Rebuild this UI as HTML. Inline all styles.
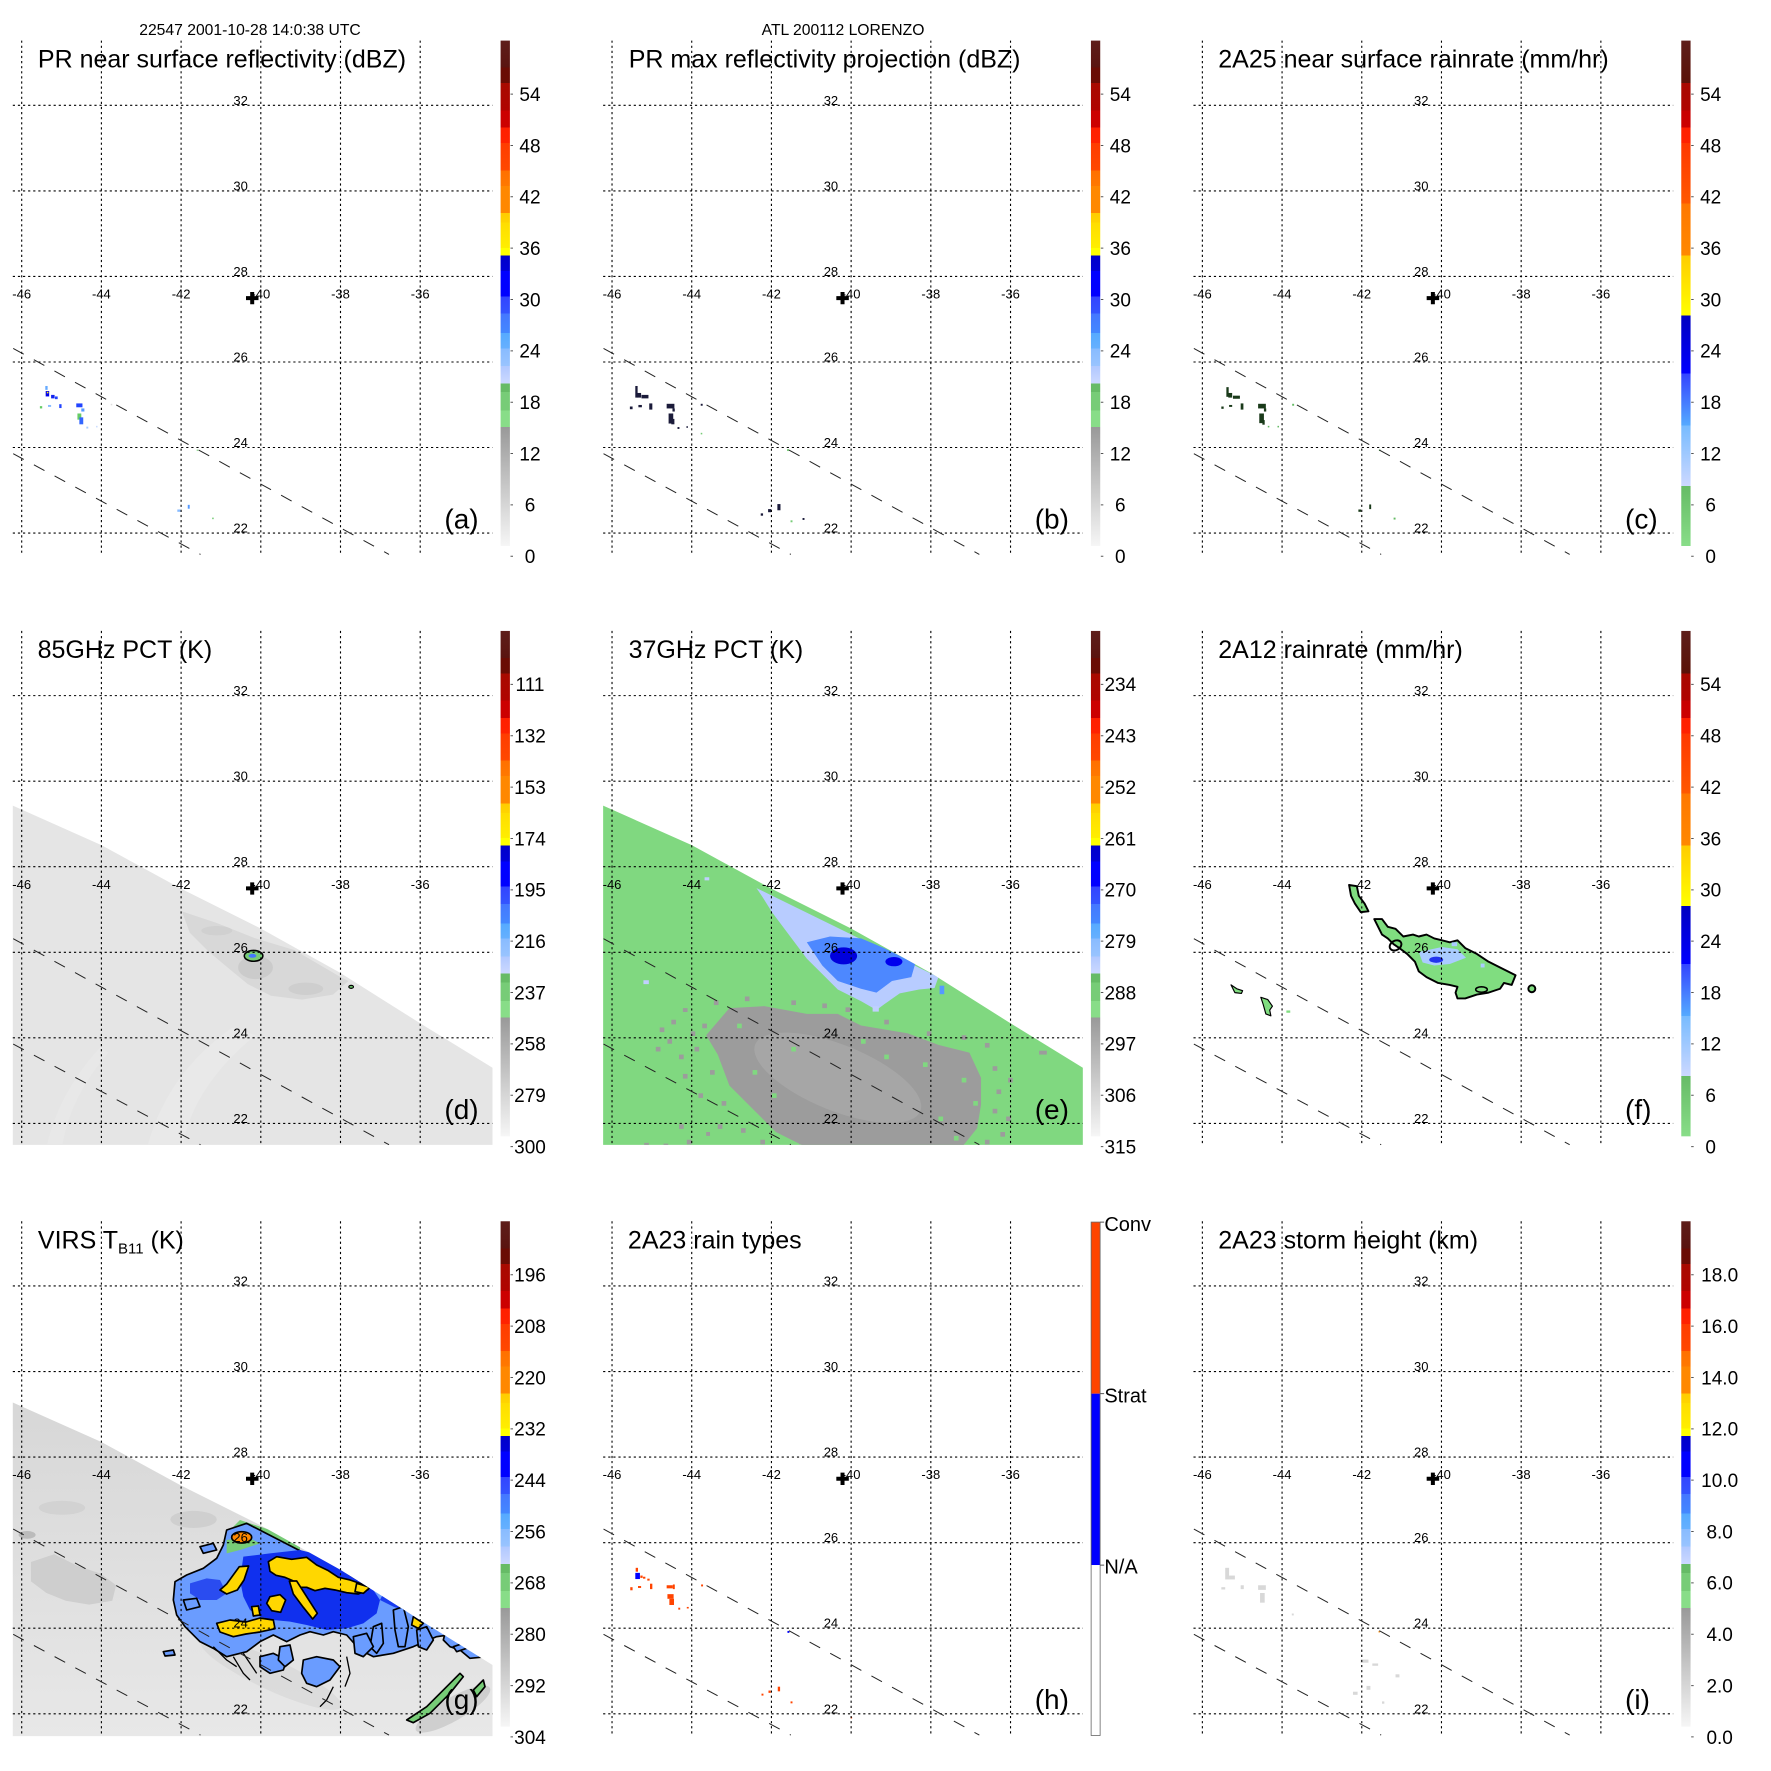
<!DOCTYPE html>
<html><head><meta charset="utf-8">
<style>
html,body{margin:0;padding:0;background:#fff;}
svg{display:block;}
text{font-family:"Liberation Sans",Arial,sans-serif;fill:#000;}
.ll{font-size:13px;text-anchor:middle;}
.ti{font-size:25px;}
.pl{font-size:28px;}
.cb{font-size:19px;text-anchor:middle;}
.hd{font-size:15.7px;text-anchor:middle;}
</style></head>
<body>
<svg width="1771" height="1771" viewBox="0 0 1771 1771" xmlns="http://www.w3.org/2000/svg">
<defs>
<linearGradient id="gA" x1="0" y1="0" x2="0" y2="1">
<stop offset="0" stop-color="#5e1e1a"/><stop offset="0.0536" stop-color="#5a1410"/>
<stop offset="0.0536" stop-color="#6a0c04"/><stop offset="0.0843" stop-color="#6a0c04"/>
<stop offset="0.0843" stop-color="#a80a00"/><stop offset="0.138" stop-color="#b00400"/>
<stop offset="0.138" stop-color="#cc0000"/><stop offset="0.1724" stop-color="#cc0000"/>
<stop offset="0.1724" stop-color="#ff2000"/><stop offset="0.203" stop-color="#ff2200"/>
<stop offset="0.203" stop-color="#ff3c00"/><stop offset="0.2567" stop-color="#ff4800"/>
<stop offset="0.2567" stop-color="#ff7000"/><stop offset="0.2874" stop-color="#ff7800"/>
<stop offset="0.2874" stop-color="#ff8800"/><stop offset="0.341" stop-color="#ff8800"/>
<stop offset="0.341" stop-color="#ffcc00"/><stop offset="0.36" stop-color="#ffd400"/>
<stop offset="0.36" stop-color="#ffdd00"/><stop offset="0.41" stop-color="#ffee00"/>
<stop offset="0.41" stop-color="#ffff00"/><stop offset="0.425" stop-color="#ffff00"/>
<stop offset="0.425" stop-color="#0000c8"/><stop offset="0.456" stop-color="#0000d8"/>
<stop offset="0.456" stop-color="#0000ff"/><stop offset="0.506" stop-color="#0000ff"/>
<stop offset="0.506" stop-color="#3344ff"/><stop offset="0.54" stop-color="#3355ff"/>
<stop offset="0.54" stop-color="#4477ff"/><stop offset="0.5785" stop-color="#4488ff"/>
<stop offset="0.5785" stop-color="#55aaff"/><stop offset="0.609" stop-color="#66b0ff"/>
<stop offset="0.609" stop-color="#88bbff"/><stop offset="0.6437" stop-color="#99c4ff"/>
<stop offset="0.6437" stop-color="#b0c8ff"/><stop offset="0.678" stop-color="#ccd8ff"/>
<stop offset="0.678" stop-color="#66bb66"/><stop offset="0.6955" stop-color="#66bb66"/>
<stop offset="0.6955" stop-color="#77cc77"/><stop offset="0.7318" stop-color="#77cc77"/>
<stop offset="0.7318" stop-color="#88dd88"/><stop offset="0.7648" stop-color="#88dd88"/>
<stop offset="0.7648" stop-color="#999999"/><stop offset="1" stop-color="#f6f6f6"/>
</linearGradient>
<linearGradient id="gC" x1="0" y1="0" x2="0" y2="1">
<stop offset="0" stop-color="#5e1e1a"/><stop offset="0.0843" stop-color="#5a1208"/>
<stop offset="0.0843" stop-color="#a80800"/><stop offset="0.138" stop-color="#b00400"/>
<stop offset="0.138" stop-color="#c80000"/><stop offset="0.172" stop-color="#cc0000"/>
<stop offset="0.172" stop-color="#ff2000"/><stop offset="0.203" stop-color="#ff2200"/>
<stop offset="0.203" stop-color="#ff3800"/><stop offset="0.322" stop-color="#ff5800"/>
<stop offset="0.322" stop-color="#ff7800"/><stop offset="0.425" stop-color="#ff8800"/>
<stop offset="0.425" stop-color="#ffcc00"/><stop offset="0.544" stop-color="#ffff00"/>
<stop offset="0.544" stop-color="#0000c0"/><stop offset="0.659" stop-color="#0000ff"/>
<stop offset="0.659" stop-color="#3344ff"/><stop offset="0.762" stop-color="#55aaff"/>
<stop offset="0.762" stop-color="#77bbff"/><stop offset="0.881" stop-color="#ccd8ff"/>
<stop offset="0.881" stop-color="#66bb66"/><stop offset="1" stop-color="#88dd88"/>
</linearGradient>
<linearGradient id="gG" x1="0" y1="0" x2="0" y2="1">
<stop offset="0" stop-color="#d7d7d7"/><stop offset="0.5" stop-color="#dfdfdf"/><stop offset="1" stop-color="#e8e8e8"/>
</linearGradient>
<clipPath id="cpDE"><polygon points="12.8,215.3 101.4,254.8 180.8,298.2 260.5,338.1 340.3,382.6 420.1,432.9 492.5,477.4 492.5,554.5 12.8,554.5"/></clipPath>
<clipPath id="cpG"><polygon points="12.8,221.8 101.4,261.3 180.8,304.7 260.5,344.6 340.3,389.1 420.1,439.4 492.5,484.3 492.5,555.5 12.8,555.5"/></clipPath>
<g id="grid">
<path d="M12.8 105.3H492.5M12.8 190.9H492.5M12.8 276.4H492.5M12.8 362H492.5M12.8 447.5H492.5M12.8 533.1H492.5M21.7 40.6V554.5M101.4 40.6V554.5M181.1 40.6V554.5M260.8 40.6V554.5M340.5 40.6V554.5M420.2 40.6V554.5" stroke="#000" stroke-width="1.1" stroke-dasharray="2.2 2.9" fill="none"/>
<path d="M13.2 348.4L389 554.4M13.2 453.7L200.5 554.4" stroke="#222" stroke-width="1" stroke-dasharray="12 11.5" fill="none"/>
</g>
<path id="cross" d="M246 296.1h12.5v4h-12.5zM250.2 292h4v12.3h-4z" fill="#000"/>
<g id="cbA"><rect x="500.6" y="40.6" width="9.3" height="505.4" fill="url(#gA)"/>
<path d="M510.5 94.1h2.5M510.5 145.45h2.5M510.5 196.8h2.5M510.5 248.15h2.5M510.5 299.5h2.5M510.5 350.85h2.5M510.5 402.2h2.5M510.5 453.55h2.5M510.5 504.9h2.5M510.5 556.25h2.5" stroke="#555" stroke-width="1"/></g>
<g id="cbC"><rect x="500.6" y="40.6" width="9.3" height="505.4" fill="url(#gC)"/>
<path d="M510.5 94.1h2.5M510.5 145.45h2.5M510.5 196.8h2.5M510.5 248.15h2.5M510.5 299.5h2.5M510.5 350.85h2.5M510.5 402.2h2.5M510.5 453.55h2.5M510.5 504.9h2.5M510.5 556.25h2.5" stroke="#555" stroke-width="1"/></g>
</defs>

<rect width="1771" height="1771" fill="#fff"/>

<!-- ===== (a) ===== -->
<g transform="translate(0,0)">
<g transform="scale(0.38715)">
<rect x="117" y="997" width="6" height="10" fill="#66aaff"/><rect x="118" y="1010" width="9" height="14" fill="#0000ee"/><rect x="121" y="1012" width="4" height="4" fill="#ffee00"/><rect x="132" y="1020" width="9" height="9" fill="#1122ee"/><rect x="142" y="1024" width="7" height="7" fill="#2244ff"/><rect x="153" y="1044" width="6" height="10" fill="#2244ff"/><rect x="103" y="1049" width="6" height="6" fill="#66cc66"/><rect x="124" y="1046" width="8" height="5" fill="#88bbff"/><rect x="197" y="1042" width="16" height="10" fill="#2244ff"/><rect x="210" y="1055" width="8" height="8" fill="#5599ff"/><rect x="200" y="1068" width="10" height="16" fill="#66cc66"/><rect x="205" y="1078" width="10" height="18" fill="#3366ff"/><rect x="223" y="1102" width="5" height="5" fill="#aaccff"/><rect x="248" y="1100" width="4" height="4" fill="#ccddff"/><rect x="286" y="1043" width="4" height="4" fill="#dddddd"/><rect x="458" y="1316" width="8" height="6" fill="#88bbff"/><rect x="485" y="1304" width="5" height="10" fill="#5599ff"/><rect x="548" y="1337" width="4" height="4" fill="#77cc77"/><rect x="508" y="1161" width="4" height="4" fill="#99dd99"/>
</g>
<use href="#grid"/>
<text class="ll" x="21.7" y="298.5">-46</text><text class="ll" x="101.4" y="298.5">-44</text><text class="ll" x="181.1" y="298.5">-42</text><text class="ll" x="260.8" y="298.5">-40</text><text class="ll" x="340.5" y="298.5">-38</text><text class="ll" x="420.2" y="298.5">-36</text>
<text class="ll" x="240.6" y="104.8">32</text><text class="ll" x="240.6" y="190.4">30</text><text class="ll" x="240.6" y="275.9">28</text><text class="ll" x="240.6" y="361.5">26</text><text class="ll" x="240.6" y="447">24</text><text class="ll" x="240.6" y="532.6">22</text>
<use href="#cross"/>
<text class="hd" x="250" y="34.8">22547 2001-10-28 14:0:38 UTC</text>
<text class="ti" x="37.9" y="67.7">PR near surface reflectivity (dBZ)</text>
<text class="pl" x="444.4" y="528.5">(a)</text>
<use href="#cbA"/>
<text class="cb" x="530" y="100.9">54</text><text class="cb" x="530" y="152.3">48</text><text class="cb" x="530" y="203.6">42</text><text class="cb" x="530" y="255">36</text><text class="cb" x="530" y="306.3">30</text><text class="cb" x="530" y="357.7">24</text><text class="cb" x="530" y="409">18</text><text class="cb" x="530" y="460.4">12</text><text class="cb" x="530" y="511.7">6</text><text class="cb" x="530" y="563.1">0</text>
</g>

<!-- ===== (b) ===== -->
<g transform="translate(590.33,0)">
<g transform="translate(-0.33,0) scale(0.38715)" fill="#1b1b3a">
<rect x="117" y="997" width="6" height="30"/><rect x="122" y="1015" width="10" height="12"/><rect x="133" y="1020" width="18" height="9"/><rect x="153" y="1042" width="8" height="16"/><rect x="103" y="1050" width="7" height="7"/><rect x="125" y="1046" width="9" height="6"/><rect x="198" y="1043" width="20" height="12"/><rect x="213" y="1055" width="6" height="8"/><rect x="203" y="1068" width="12" height="26"/><rect x="210" y="1082" width="8" height="14"/><rect x="226" y="1103" width="5" height="5"/><rect x="249" y="1101" width="4" height="4"/><rect x="286" y="1043" width="5" height="5"/><rect x="286" y="1118" width="4" height="4" fill="#77cc77"/><rect x="509" y="1160" width="5" height="5" fill="#77cc77"/><rect x="441" y="1326" width="6" height="6"/><rect x="460" y="1315" width="8" height="8"/><rect x="484" y="1302" width="8" height="16"/><rect x="518" y="1344" width="5" height="5" fill="#77cc77"/><rect x="549" y="1338" width="5" height="5"/>
</g>
<use href="#grid"/>
<text class="ll" x="21.7" y="298.5">-46</text><text class="ll" x="101.4" y="298.5">-44</text><text class="ll" x="181.1" y="298.5">-42</text><text class="ll" x="260.8" y="298.5">-40</text><text class="ll" x="340.5" y="298.5">-38</text><text class="ll" x="420.2" y="298.5">-36</text>
<text class="ll" x="240.6" y="104.8">32</text><text class="ll" x="240.6" y="190.4">30</text><text class="ll" x="240.6" y="275.9">28</text><text class="ll" x="240.6" y="361.5">26</text><text class="ll" x="240.6" y="447">24</text><text class="ll" x="240.6" y="532.6">22</text>
<use href="#cross"/>
<text class="hd" x="252.7" y="34.8">ATL 200112 LORENZO</text>
<text class="ti" x="38.4" y="67.7">PR max reflectivity projection (dBZ)</text>
<text class="pl" x="444.4" y="528.5">(b)</text>
<use href="#cbA"/>
<text class="cb" x="530" y="100.9">54</text><text class="cb" x="530" y="152.3">48</text><text class="cb" x="530" y="203.6">42</text><text class="cb" x="530" y="255">36</text><text class="cb" x="530" y="306.3">30</text><text class="cb" x="530" y="357.7">24</text><text class="cb" x="530" y="409">18</text><text class="cb" x="530" y="460.4">12</text><text class="cb" x="530" y="511.7">6</text><text class="cb" x="530" y="563.1">0</text>
</g>

<!-- ===== (c) ===== -->
<g transform="translate(1180.67,0)">
<g transform="translate(-9.67,0) scale(0.38715)" fill="#1a3a1a">
<rect x="143" y="1000" width="6" height="25"/><rect x="148" y="1015" width="10" height="12"/><rect x="160" y="1022" width="18" height="8"/><rect x="180" y="1042" width="7" height="16"/><rect x="130" y="1050" width="6" height="6"/><rect x="150" y="1046" width="8" height="5"/><rect x="225" y="1043" width="20" height="12"/><rect x="240" y="1055" width="6" height="8"/><rect x="228" y="1068" width="12" height="25"/><rect x="236" y="1085" width="6" height="12"/><rect x="250" y="1100" width="4" height="4" fill="#66bb66"/><rect x="275" y="1100" width="4" height="4" fill="#66bb66"/><rect x="313" y="1043" width="5" height="5" fill="#66bb66"/><rect x="537" y="1161" width="4" height="4" fill="#66bb66"/><rect x="484" y="1316" width="7" height="6"/><rect x="512" y="1303" width="5" height="12"/><rect x="575" y="1337" width="5" height="5" fill="#66bb66"/>
</g>
<use href="#grid"/>
<text class="ll" x="21.7" y="298.5">-46</text><text class="ll" x="101.4" y="298.5">-44</text><text class="ll" x="181.1" y="298.5">-42</text><text class="ll" x="260.8" y="298.5">-40</text><text class="ll" x="340.5" y="298.5">-38</text><text class="ll" x="420.2" y="298.5">-36</text>
<text class="ll" x="240.6" y="104.8">32</text><text class="ll" x="240.6" y="190.4">30</text><text class="ll" x="240.6" y="275.9">28</text><text class="ll" x="240.6" y="361.5">26</text><text class="ll" x="240.6" y="447">24</text><text class="ll" x="240.6" y="532.6">22</text>
<use href="#cross"/>
<text class="ti" x="37.6" y="67.7">2A25 near surface rainrate (mm/hr)</text>
<text class="pl" x="444.4" y="528.5">(c)</text>
<use href="#cbC"/>
<text class="cb" x="530" y="100.9">54</text><text class="cb" x="530" y="152.3">48</text><text class="cb" x="530" y="203.6">42</text><text class="cb" x="530" y="255">36</text><text class="cb" x="530" y="306.3">30</text><text class="cb" x="530" y="357.7">24</text><text class="cb" x="530" y="409">18</text><text class="cb" x="530" y="460.4">12</text><text class="cb" x="530" y="511.7">6</text><text class="cb" x="530" y="563.1">0</text>
</g>

<!-- ===== (d) ===== -->
<g transform="translate(0,590.33)">
<g clip-path="url(#cpDE)">
<rect x="12" y="200" width="482" height="360" fill="#e5e5e5"/>
<g transform="translate(0,-0.33) scale(0.38715)">
<path d="M380,1440 Q430,1250 600,1130 L660,1150 Q500,1280 470,1440 Z" fill="#e9e9e9"/>
<path d="M120,1440 Q150,1300 260,1180 L280,1195 Q180,1310 160,1440 Z" fill="#e8e8e8"/>
<path d="M470,830 L560,860 L660,900 L760,930 L880,1000 L900,1010 L860,1045 L780,1058 L700,1048 L640,1018 L600,985 L540,935 L490,885 Z" fill="#d8d8d8"/>
<ellipse cx="660" cy="975" rx="45" ry="30" fill="#cbcbcb"/>
<ellipse cx="790" cy="1030" rx="45" ry="16" fill="#cecece"/>
<ellipse cx="560" cy="880" rx="40" ry="12" fill="#d0d0d0"/>
<ellipse cx="655" cy="945" rx="24" ry="14" fill="#77cc77" stroke="#000" stroke-width="4"/>
<ellipse cx="652" cy="945" rx="10" ry="5" fill="#4477ff"/>
<ellipse cx="907" cy="1025" rx="6" ry="4" fill="#66bb66" stroke="#000" stroke-width="3"/>
</g>
</g>
<use href="#grid"/>
<text class="ll" x="21.7" y="298.5">-46</text><text class="ll" x="101.4" y="298.5">-44</text><text class="ll" x="181.1" y="298.5">-42</text><text class="ll" x="260.8" y="298.5">-40</text><text class="ll" x="340.5" y="298.5">-38</text><text class="ll" x="420.2" y="298.5">-36</text>
<text class="ll" x="240.6" y="104.8">32</text><text class="ll" x="240.6" y="190.4">30</text><text class="ll" x="240.6" y="275.9">28</text><text class="ll" x="240.6" y="361.5">26</text><text class="ll" x="240.6" y="447">24</text><text class="ll" x="240.6" y="532.6">22</text>
<use href="#cross"/>
<text class="ti" x="37.6" y="67.7"> 85GHz PCT (K)</text>
<text class="pl" x="444.4" y="528.5">(d)</text>
<use href="#cbA"/>
<text class="cb" x="530" y="100.9">111</text><text class="cb" x="530" y="152.3">132</text><text class="cb" x="530" y="203.6">153</text><text class="cb" x="530" y="255">174</text><text class="cb" x="530" y="306.3">195</text><text class="cb" x="530" y="357.7">216</text><text class="cb" x="530" y="409">237</text><text class="cb" x="530" y="460.4">258</text><text class="cb" x="530" y="511.7">279</text><text class="cb" x="530" y="563.1">300</text>
</g>

<!-- ===== (e) ===== -->
<g transform="translate(590.33,590.33)">
<g clip-path="url(#cpDE)">
<rect x="12" y="200" width="482" height="360" fill="#80d880"/>
<g transform="translate(-0.33,-0.33) scale(0.38715)">
<path d="M360,1080 L450,1075 L560,1095 L640,1095 L700,1125 L820,1145 L900,1175 L980,1195 L1010,1260 L1010,1330 L1000,1390 L960,1440 L560,1440 L480,1400 L420,1340 L360,1280 L330,1200 L300,1150 Z" fill="#9c9c9c"/>
<ellipse cx="640" cy="1260" rx="230" ry="85" transform="rotate(22 640 1260)" fill="#a6a6a6"/>
<g fill="#9c9c9c">
<rect x="180" y="1130" width="12" height="12"/><rect x="200" y="1160" width="12" height="12"/><rect x="240" y="1080" width="12" height="10"/><rect x="260" y="1140" width="12" height="12"/><rect x="290" y="1120" width="12" height="12"/><rect x="230" y="1200" width="12" height="12"/><rect x="320" y="1060" width="12" height="12"/><rect x="140" y="1428" width="12" height="8"/><rect x="330" y="1380" width="12" height="12"/><rect x="300" y="1400" width="10" height="10"/><rect x="1040" y="1230" width="12" height="12"/><rect x="1050" y="1290" width="12" height="12"/><rect x="1040" y="1340" width="12" height="12"/><rect x="1060" y="1400" width="12" height="12"/><rect x="1160" y="1190" width="20" height="10"/><rect x="600" y="1068" width="12" height="12"/><rect x="660" y="1078" width="12" height="12"/><rect x="870" y="1140" width="12" height="12"/><rect x="540" y="1420" width="12" height="12"/><rect x="240" y="1250" width="12" height="12"/><rect x="280" y="1300" width="12" height="12"/><rect x="230" y="1380" width="12" height="12"/><rect x="1020" y="1170" width="12" height="12"/>
<rect x="170" y="1180" width="12" height="12"/><rect x="210" y="1110" width="12" height="12"/><rect x="270" y="1180" width="12" height="12"/><rect x="310" y="1240" width="12" height="12"/><rect x="340" y="1320" width="12" height="12"/><rect x="390" y="1390" width="12" height="12"/><rect x="440" y="1420" width="12" height="12"/><rect x="1020" y="1420" width="12" height="12"/><rect x="1075" y="1360" width="12" height="12"/><rect x="1080" y="1260" width="12" height="12"/><rect x="960" y="1150" width="12" height="12"/><rect x="760" y="1110" width="12" height="12"/><rect x="520" y="1060" width="12" height="12"/><rect x="400" y="1050" width="12" height="12"/><rect x="190" y="1430" width="12" height="8"/><rect x="250" y="1420" width="12" height="12"/>
</g>
<g fill="#80d880"><rect x="520" y="1180" width="12" height="12"/><rect x="470" y="1300" width="12" height="12"/><rect x="760" y="1200" width="12" height="12"/><rect x="900" y="1360" width="12" height="12"/><rect x="420" y="1240" width="12" height="12"/><rect x="960" y="1260" width="12" height="12"/><rect x="380" y="1120" width="12" height="12"/><rect x="700" y="1160" width="12" height="12"/><rect x="860" y="1220" width="12" height="12"/><rect x="940" y="1410" width="12" height="12"/><rect x="990" y="1320" width="12" height="12"/></g>
<path d="M430,770 L900,1000 L890,1028 L850,1032 L800,1042 L760,1070 L740,1085 L700,1062 L640,1032 L600,992 L560,952 L530,912 L500,872 L470,832 L445,792 Z" fill="#b8ccff"/>
<path d="M560,910 L620,895 L700,900 L760,925 L840,965 L830,1000 L780,1010 L740,1040 L700,1030 L640,1010 L600,970 Z" fill="#4d88ff"/>
<ellipse cx="655" cy="945" rx="35" ry="22" fill="#0000dd"/>
<ellipse cx="785" cy="960" rx="22" ry="12" fill="#0000ee"/>
<rect x="903" y="1022" width="12" height="22" fill="#5599ff"/>
<rect x="138" y="1008" width="14" height="10" fill="#c0d0ff"/>
<rect x="296" y="742" width="12" height="8" fill="#c0d0ff"/>
<rect x="730" y="1075" width="16" height="14" fill="#c0d0ff"/>
</g>
</g>
<use href="#grid"/>
<text class="ll" x="21.7" y="298.5">-46</text><text class="ll" x="101.4" y="298.5">-44</text><text class="ll" x="181.1" y="298.5">-42</text><text class="ll" x="260.8" y="298.5">-40</text><text class="ll" x="340.5" y="298.5">-38</text><text class="ll" x="420.2" y="298.5">-36</text>
<text class="ll" x="240.6" y="104.8">32</text><text class="ll" x="240.6" y="190.4">30</text><text class="ll" x="240.6" y="275.9">28</text><text class="ll" x="240.6" y="361.5">26</text><text class="ll" x="240.6" y="447">24</text><text class="ll" x="240.6" y="532.6">22</text>
<use href="#cross"/>
<text class="ti" x="38.3" y="67.7"> 37GHz PCT (K)</text>
<text class="pl" x="444.4" y="528.5">(e)</text>
<use href="#cbA"/>
<text class="cb" x="530" y="100.9">234</text><text class="cb" x="530" y="152.3">243</text><text class="cb" x="530" y="203.6">252</text><text class="cb" x="530" y="255">261</text><text class="cb" x="530" y="306.3">270</text><text class="cb" x="530" y="357.7">279</text><text class="cb" x="530" y="409">288</text><text class="cb" x="530" y="460.4">297</text><text class="cb" x="530" y="511.7">306</text><text class="cb" x="530" y="563.1">315</text>
</g>

<!-- ===== (f) ===== -->
<g transform="translate(1180.67,590.33)">
<g transform="translate(-9.67,-0.33) scale(0.38715)" stroke="#000" stroke-width="5" stroke-linejoin="round">
<path d="M525,850 L545,850 L560,870 L580,875 L600,895 L625,890 L640,895 L660,890 L680,900 L700,905 L720,910 L740,905 L760,925 L790,940 L820,960 L850,975 L870,985 L890,995 L880,1020 L860,1015 L850,1030 L820,1040 L790,1045 L760,1055 L740,1055 L735,1040 L740,1025 L720,1020 L690,1015 L660,1000 L640,985 L630,960 L610,940 L590,925 L575,915 L560,900 L545,890 L535,870 Z" fill="#80dd80"/>
<path d="M460,762 L480,765 L485,790 L500,810 L510,830 L490,832 L475,810 L465,790 Z" fill="#80dd80"/>
<path d="M155,1020 L170,1030 L185,1035 L182,1042 L165,1040 Z" fill="#80dd80" stroke-width="3"/>
<path d="M232,1052 L250,1058 L262,1075 L255,1085 L258,1100 L245,1095 L238,1070 Z" fill="#80dd80" stroke-width="3"/>
<rect x="298" y="1086" width="10" height="6" fill="#80dd80" stroke="none"/>
<circle cx="932" cy="1030" r="9" fill="#80dd80"/>
<path d="M640,935 L700,922 L740,928 L762,950 L720,966 L680,970 L650,962 Z" fill="#aaccff" stroke="none"/>
<ellipse cx="685" cy="955" rx="18" ry="8" fill="#2233ee" stroke="none"/>
<rect x="725" y="910" width="14" height="10" fill="#aaccff" stroke="none"/>
<rect x="800" y="965" width="10" height="10" fill="#aaccff" stroke="none"/>
<ellipse cx="580" cy="918" rx="16" ry="12" transform="rotate(-30 580 918)" fill="none"/>
<ellipse cx="802" cy="1032" rx="15" ry="7" fill="none" stroke-width="4"/>
</g>
<use href="#grid"/>
<text class="ll" x="21.7" y="298.5">-46</text><text class="ll" x="101.4" y="298.5">-44</text><text class="ll" x="181.1" y="298.5">-42</text><text class="ll" x="260.8" y="298.5">-40</text><text class="ll" x="340.5" y="298.5">-38</text><text class="ll" x="420.2" y="298.5">-36</text>
<text class="ll" x="240.6" y="104.8">32</text><text class="ll" x="240.6" y="190.4">30</text><text class="ll" x="240.6" y="275.9">28</text><text class="ll" x="240.6" y="361.5">26</text><text class="ll" x="240.6" y="447">24</text><text class="ll" x="240.6" y="532.6">22</text>
<use href="#cross"/>
<text class="ti" x="37.6" y="67.7">2A12 rainrate (mm/hr)</text>
<text class="pl" x="444.4" y="528.5">(f)</text>
<use href="#cbC"/>
<text class="cb" x="530" y="100.9">54</text><text class="cb" x="530" y="152.3">48</text><text class="cb" x="530" y="203.6">42</text><text class="cb" x="530" y="255">36</text><text class="cb" x="530" y="306.3">30</text><text class="cb" x="530" y="357.7">24</text><text class="cb" x="530" y="409">18</text><text class="cb" x="530" y="460.4">12</text><text class="cb" x="530" y="511.7">6</text><text class="cb" x="530" y="563.1">0</text>
</g>

<!-- ===== (g) ===== -->
<g transform="translate(0,1180.67)">
<g clip-path="url(#cpG)">
<rect x="12" y="215" width="482" height="345" fill="url(#gG)"/>
<g transform="translate(0,-9.67) scale(0.38715)">
<path d="M80,1010 L140,990 L200,1020 L260,1040 L300,1070 L290,1110 L230,1120 L170,1110 L120,1090 L80,1060 Z" fill="#c6c6c6" opacity="0.7"/>
<ellipse cx="70" cy="940" rx="22" ry="10" fill="#bbbbbb"/>
<ellipse cx="160" cy="870" rx="60" ry="18" fill="#cccccc" opacity="0.6"/>
<ellipse cx="500" cy="900" rx="60" ry="22" fill="#c6c6c6" opacity="0.6"/>
<ellipse cx="1170" cy="1390" rx="110" ry="30" transform="rotate(-30 1170 1390)" fill="#c4c4c4" opacity="0.7"/>
<ellipse cx="700" cy="1300" rx="200" ry="40" transform="rotate(25 700 1300)" fill="#d2d2d2" opacity="0.5"/>
</g>
<g transform="translate(160,319.33) scale(0.33333)" stroke-linejoin="round">
<path d="M240,60 L420,120 L420,150 L300,140 L240,120 L200,100 Z" fill="#77cc77"/>
<path d="M200,90 L260,70 L900,400 L830,410 L760,440 L700,460 L640,470 L600,450 L560,405 L520,395 L490,405 L450,395 L420,405 L380,425 L340,405 L300,425 L260,455 L200,470 L160,445 L120,425 L95,400 L75,380 L50,345 L40,300 L45,245 L80,225 L130,205 L170,175 L190,135 Z" fill="#6a9cff" stroke="#000" stroke-width="5"/>
<path d="M200,120 L260,110 L300,130 L240,150 L200,160 Z" fill="#77cc77"/>
<path d="M250,170 L330,160 L420,150 L480,165 L540,200 L600,240 L640,270 L660,300 L650,340 L610,370 L560,385 L500,390 L440,375 L390,365 L340,360 L300,350 L270,330 L250,290 L240,240 Z" fill="#1030ee"/>
<path d="M90,250 L140,235 L180,240 L200,280 L170,300 L120,300 L90,280 Z" fill="#2a4cf0"/>
<path d="M680,260 L760,300 L800,360 L760,340 L700,320 L660,300 Z" fill="#1a3cf0"/>
<g fill="#6a9cff" stroke="#000" stroke-width="5">
<path d="M860,380 L990,450 L980,470 L930,475 L900,450 L870,440 L850,420 Z"/>
<path d="M700,330 L730,320 L745,380 L735,440 L715,440 L705,390 Z"/>
<path d="M770,390 L800,380 L820,420 L800,450 L775,440 Z"/>
<path d="M640,380 L665,370 L670,430 L650,460 L630,440 Z"/>
</g>
<g fill="#ffd700" stroke="#000" stroke-width="5">
<path d="M325,185 L350,170 L395,178 L440,172 L470,195 L505,212 L535,232 L570,240 L605,252 L625,268 L595,282 L560,278 L525,270 L495,265 L465,272 L440,262 L420,262 L398,242 L375,232 L348,226 L330,214 Z"/>
<path d="M388,243 L410,243 L440,290 L472,340 L458,357 L430,322 L400,282 Z"/>
<path d="M330,290 L360,284 L377,300 L362,337 L335,332 L320,310 Z"/>
<path d="M200,252 L238,200 L266,198 L252,240 L232,270 L200,282 L180,270 Z"/>
<path d="M170,370 L210,360 L258,366 L300,354 L340,360 L345,386 L300,396 L258,402 L220,410 L180,396 Z"/>
<path d="M760,350 L790,370 L775,385 L755,375 Z"/>
<path d="M275,320 L295,318 L300,345 L280,348 Z"/>
<path d="M590,250 L630,262 L610,280 L585,275 Z"/>
</g>
<ellipse cx="245" cy="112" rx="30" ry="17" fill="#ff8800" stroke="#000" stroke-width="5"/>
<g fill="#6a9cff" stroke="#000" stroke-width="5">
<path d="M430,480 L470,470 L520,480 L540,500 L510,540 L470,560 L440,550 L425,520 Z"/>
<path d="M300,470 L340,460 L380,480 L370,510 L330,520 L300,500 Z"/>
<path d="M580,410 L620,400 L640,440 L610,470 L585,460 Z"/>
<path d="M10,455 L40,450 L45,465 L15,468 Z"/>
<path d="M880,440 L910,430 L920,445 L890,455 Z"/>
<path d="M120,140 L160,130 L170,150 L130,160 Z"/>
<path d="M70,300 L110,295 L120,320 L80,330 Z"/>
<path d="M360,440 L390,435 L400,480 L375,500 L355,480 Z"/>
</g>
<g fill="none" stroke="#000" stroke-width="4">
<path d="M160,440 L200,480 L230,500"/>
<path d="M220,470 L250,520 L270,540"/>
<path d="M250,460 L290,520"/>
<path d="M520,560 L500,600 L480,620"/>
<path d="M560,470 L570,520 L555,560"/>
</g>
<g fill="#77cc77" stroke="#000" stroke-width="5">
<path d="M740,660 L800,620 L860,560 L900,520 L910,530 L870,580 L810,640 L760,668 Z"/>
<path d="M940,570 L970,540 L975,560 L950,590 Z"/>
</g>
</g>
</g>
<use href="#grid"/>
<text class="ll" x="21.7" y="298.5">-46</text><text class="ll" x="101.4" y="298.5">-44</text><text class="ll" x="181.1" y="298.5">-42</text><text class="ll" x="260.8" y="298.5">-40</text><text class="ll" x="340.5" y="298.5">-38</text><text class="ll" x="420.2" y="298.5">-36</text>
<text class="ll" x="240.6" y="104.8">32</text><text class="ll" x="240.6" y="190.4">30</text><text class="ll" x="240.6" y="275.9">28</text><text class="ll" x="240.6" y="361.5">26</text><text class="ll" x="240.6" y="447">24</text><text class="ll" x="240.6" y="532.6">22</text>
<use href="#cross"/>
<text class="ti" x="37.9" y="67.7">VIRS T<tspan font-size="15" dy="5">B11</tspan><tspan dy="-5"> (K)</tspan></text>
<text class="pl" x="444.4" y="528.5">(g)</text>
<use href="#cbA"/>
<text class="cb" x="530" y="100.9">196</text><text class="cb" x="530" y="152.3">208</text><text class="cb" x="530" y="203.6">220</text><text class="cb" x="530" y="255">232</text><text class="cb" x="530" y="306.3">244</text><text class="cb" x="530" y="357.7">256</text><text class="cb" x="530" y="409">268</text><text class="cb" x="530" y="460.4">280</text><text class="cb" x="530" y="511.7">292</text><text class="cb" x="530" y="563.1">304</text>
</g>

<!-- ===== (h) ===== -->
<g transform="translate(590.33,1180.67)">
<g transform="translate(-0.33,-9.67) scale(0.38715)" fill="#ff4400">
<rect x="118" y="1025" width="6" height="10"/><rect x="117" y="1038" width="12" height="16" fill="#0000ff"/><rect x="130" y="1045" width="6" height="6"/><rect x="137" y="1048" width="6" height="5"/><rect x="148" y="1053" width="6" height="5"/><rect x="155" y="1066" width="6" height="14"/><rect x="104" y="1075" width="6" height="8"/><rect x="124" y="1072" width="8" height="5"/><rect x="198" y="1070" width="16" height="8"/><rect x="214" y="1068" width="5" height="12"/><rect x="200" y="1093" width="16" height="12"/><rect x="205" y="1105" width="12" height="16"/><rect x="228" y="1128" width="5" height="5"/><rect x="250" y="1126" width="5" height="4"/><rect x="287" y="1068" width="5" height="5"/><rect x="510" y="1188" width="5" height="5" fill="#0000ff"/><rect x="443" y="1350" width="5" height="5"/><rect x="461" y="1342" width="6" height="6"/><rect x="485" y="1332" width="6" height="12"/><rect x="518" y="1370" width="5" height="5"/><rect x="673" y="1410" width="4" height="4"/>
</g>
<use href="#grid"/>
<text class="ll" x="21.7" y="298.5">-46</text><text class="ll" x="101.4" y="298.5">-44</text><text class="ll" x="181.1" y="298.5">-42</text><text class="ll" x="260.8" y="298.5">-40</text><text class="ll" x="340.5" y="298.5">-38</text><text class="ll" x="420.2" y="298.5">-36</text>
<text class="ll" x="240.6" y="104.8">32</text><text class="ll" x="240.6" y="190.4">30</text><text class="ll" x="240.6" y="275.9">28</text><text class="ll" x="240.6" y="361.5">26</text><text class="ll" x="240.6" y="447">24</text><text class="ll" x="240.6" y="532.6">22</text>
<use href="#cross"/>
<text class="ti" x="37.6" y="67.7">2A23 rain types</text>
<text class="pl" x="444.4" y="528.5">(h)</text>
<rect x="500.8" y="41.4" width="9" height="171.6" fill="#ff4400"/>
<rect x="500.8" y="213" width="9" height="171.4" fill="#0000ff"/>
<rect x="500.8" y="384.4" width="9" height="170.4" fill="#ffffff"/>
<rect x="500.8" y="41.4" width="9" height="513.4" fill="none" stroke="#666" stroke-width="0.8"/>
<path d="M509.8 41.4h4M509.8 213h4M509.8 384.4h4" stroke="#555" stroke-width="1"/>
<text x="514" y="50.3" font-size="20">Conv</text>
<text x="514" y="221.8" font-size="20">Strat</text>
<text x="514" y="393" font-size="20">N/A</text>
</g>

<!-- ===== (i) ===== -->
<g transform="translate(1180.67,1180.67)">
<g transform="translate(-9.67,-9.67) scale(0.38715)" fill="#d8d8d8">
<rect x="140" y="1025" width="10" height="30"/><rect x="150" y="1045" width="15" height="10"/><rect x="130" y="1075" width="10" height="6"/><rect x="180" y="1070" width="8" height="10"/><rect x="225" y="1070" width="20" height="12"/><rect x="230" y="1090" width="12" height="25"/><rect x="312" y="1143" width="5" height="5"/><rect x="536" y="1188" width="4" height="4" fill="#ff9922"/><rect x="470" y="1345" width="12" height="8"/><rect x="505" y="1330" width="10" height="10"/><rect x="490" y="1262" width="20" height="8"/><rect x="520" y="1272" width="15" height="6"/><rect x="580" y="1300" width="10" height="8"/><rect x="545" y="1370" width="6" height="6"/>
</g>
<use href="#grid"/>
<text class="ll" x="21.7" y="298.5">-46</text><text class="ll" x="101.4" y="298.5">-44</text><text class="ll" x="181.1" y="298.5">-42</text><text class="ll" x="260.8" y="298.5">-40</text><text class="ll" x="340.5" y="298.5">-38</text><text class="ll" x="420.2" y="298.5">-36</text>
<text class="ll" x="240.6" y="104.8">32</text><text class="ll" x="240.6" y="190.4">30</text><text class="ll" x="240.6" y="275.9">28</text><text class="ll" x="240.6" y="361.5">26</text><text class="ll" x="240.6" y="447">24</text><text class="ll" x="240.6" y="532.6">22</text>
<use href="#cross"/>
<text class="ti" x="37.6" y="67.7">2A23 storm height (km)</text>
<text class="pl" x="444.4" y="528.5">(i)</text>
<use href="#cbA"/>
<text class="cb" x="539" y="100.9">18.0</text><text class="cb" x="539" y="152.3">16.0</text><text class="cb" x="539" y="203.6">14.0</text><text class="cb" x="539" y="255">12.0</text><text class="cb" x="539" y="306.3">10.0</text><text class="cb" x="539" y="357.7">8.0</text><text class="cb" x="539" y="409">6.0</text><text class="cb" x="539" y="460.4">4.0</text><text class="cb" x="539" y="511.7">2.0</text><text class="cb" x="539" y="563.1">0.0</text>
</g>
</svg>
</body></html>
